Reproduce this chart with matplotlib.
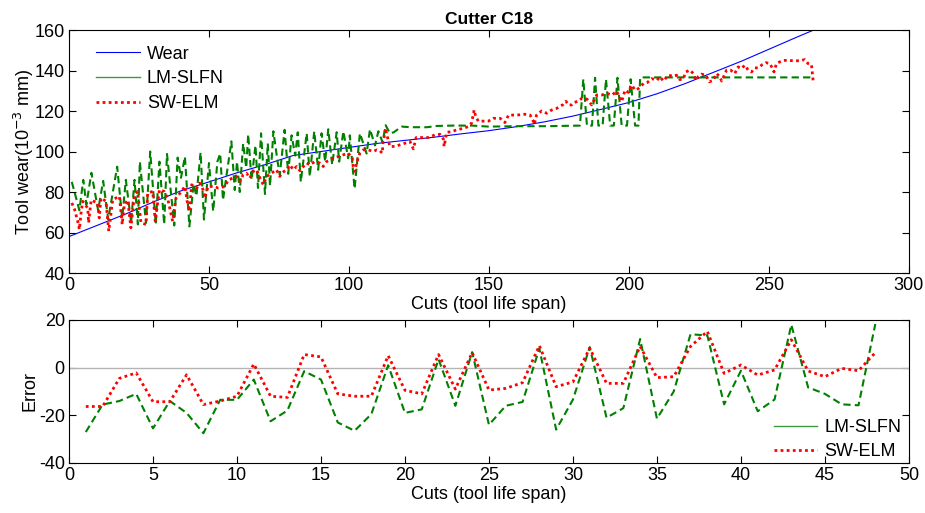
import matplotlib.pyplot as plt
from matplotlib.lines import Line2D

plt.rcParams['font.family'] = ['Liberation Sans', 'DejaVu Sans']
plt.rcParams['axes.unicode_minus'] = False

# measured wear (smooth)
wear_cut = [0, 10, 20, 30, 40, 50, 60, 70, 80, 90, 100, 110, 120, 130, 140,
            150, 160, 170, 180, 190, 200, 210, 220, 230, 240, 250, 260, 266]
wear_val = [58, 63.5, 69, 75, 80.6, 85, 89.5, 93.5, 98, 100, 102, 104, 105.5,
            107, 108.7, 110.3, 112.3, 114.7, 117.5, 120.8, 124.2, 128.5, 133.5,
            139, 144.5, 150.5, 156.5, 160]

# LM-SLFN prediction (turning points)
lm_cut = [1, 3.7, 5.1, 6.2, 8, 10.4, 12.2, 14, 17.2, 19, 20.3, 22.2, 23.4, 24.6,
          25.3, 27.5, 29, 31, 32.3, 34, 35, 37.6, 38.8, 40, 41.4, 43, 44.5, 45.5,
          47, 48.2, 50, 51.5, 53, 54, 55, 58, 59.2, 60, 61, 62.2, 63.3, 64, 65.2,
          66.6, 67.5, 68.6, 70, 71, 71.8, 73, 74.5, 75.3, 77, 78.3, 79.5, 80.8,
          81.7, 82.8, 84.9, 86, 87.6, 89, 90.2, 91.5, 92.6, 94, 95.6, 96.5, 98,
          99.7, 100.3, 102, 103.9, 106.3, 107.5, 109.3, 110.5, 112, 113.1, 114.6,
          116, 118.8, 122, 128, 131, 137, 144, 150, 160, 170, 182.5, 183.7, 185,
          186.8, 187.9, 189.1, 190.6, 191.8, 193.3, 194.6, 195.9, 197.4, 199.3,
          200.6, 202.2, 203.4, 204, 265.5]
lm_val = [85, 71, 86, 73.8, 89.5, 71, 85.5, 66.5, 92.5, 67, 86, 65, 86, 64,
          95, 64.8, 100, 64, 95, 64, 98.8, 63.5, 97, 87, 97.5, 63, 84, 78,
          99.5, 66.4, 94.3, 70.5, 95, 99, 76, 105, 81, 95, 80, 104, 92, 108.5, 86,
          103, 82, 109, 79, 104, 83, 110, 95, 88.5, 110.7, 89, 108, 98,
          109.5, 85, 109, 87.7, 110, 91, 109, 95, 111, 93.5, 109.5, 95, 110,
          96.7, 108, 81.6, 109, 99, 111, 103, 110, 104.6, 113, 109,
          109.5, 112.3, 112, 112, 112.6, 112.8, 112.8, 112.3, 112.5, 112.5, 112.8, 135.7, 112.8,
          112.8, 136.4, 112.8, 112.8, 135.7, 112.8, 112.8, 136.4, 112.8, 112.8,
          135.7, 112.8, 112.8, 136.6, 136.6]

# SW-ELM prediction
sw_cut = [1, 1.9, 3.1, 3.7, 4.3, 4.9, 6.7, 7, 7.9, 10.2, 10.8, 11.4, 13.2, 14.2,
          15.6, 18, 19, 19.8, 21, 22.1, 23.3, 24.5, 25.7, 27.5, 28.1, 29.9, 30.8,
          32.3, 34, 35.2, 37, 38.2, 40, 41.4, 42.2, 43, 43.8, 45.6, 46.7, 47.9,
          48.5, 49.7, 51.5, 53.3, 54.5, 55.7, 56.9, 58.6, 59.8, 61, 62.2, 63.4,
          64.6, 65.8, 67, 68.2, 69.4, 70.6, 72.3, 74.1, 75.3, 75.9, 77.7, 78.9,
          80.1, 81.3, 82.5, 83.7, 84.9, 86, 87.8, 89.6, 90.8, 92, 93.2, 94.4, 96.2,
          98, 99.7, 101.2, 101.5, 102.1, 102.7, 103.9, 105.1, 106.9, 108.7, 109.9,
          111.1, 111.9, 112.2, 112.6, 113.1, 113.4, 114.6, 116.4, 118.2, 120,
          121.8, 123, 124, 126, 128.3, 130.7, 132.5, 133.7, 134, 134.9, 136.7,
          138.5, 141, 142.6, 143.8, 144.7, 145.3, 146.2, 148, 149.8, 151.6, 154,
          155.7, 157, 160, 162.9, 164.7, 165.9, 166.2, 167, 168.8, 170.6, 172.4,
          174.2, 176.6, 177.5, 178.4, 179.5, 180.2, 181.3, 182, 183.1, 185, 186.7,
          187.3, 188.5, 190.3, 192.1, 194, 195.6, 196.8, 197.4, 198.6, 199.8, 201,
          202.2, 203.4, 205.2, 206.6, 208.1, 210, 211.1, 212.3, 214, 215.9, 217,
          218.2, 219.4, 220.3, 221.8, 223, 223.9, 224.7, 225.9, 227.5, 228.7,
          230.1, 231.3, 232.5, 233.1, 234.9, 236.3, 237.8, 239, 240.2, 241.4,
          242.6, 243.8, 245, 246.2, 247.7, 248.9, 250.3, 251.3, 251.8, 252.7,
          253.9, 255.1, 256.9, 258.7, 261.1, 262.8, 264, 265.2, 265.6, 265.8]
sw_val = [74.6, 71.8, 65.6, 61.5, 69.7, 75.4, 72, 64.8, 76, 74.6, 67.2, 77, 75.5, 60.7,
          76.2, 77.9, 64, 74, 76, 62.3, 78, 80.3, 64.8, 64, 79.5, 80.3, 65.6,
          81.1, 80.3, 77, 65.6, 77, 80, 82.8, 75.4, 70.5, 83.6, 82, 84.4, 81.1,
          77, 82.8, 82.8, 82, 82.3, 82.8, 86, 86.9, 87.7, 85.2, 88.5, 89.3,
          86.9, 90.2, 91, 86.9, 83.6, 87.7, 89.3, 91, 87.7, 89.3, 91, 93.4,
          91, 92.6, 90.5, 92.6, 94.3, 93.4, 95, 94.3, 92.6, 95, 95.9, 96.7, 97.5,
          98.4, 99.2, 96.7, 92.6, 90.2, 94.3, 99.2, 100.8, 100.8, 100, 100.8,
          100.3, 99.2, 104.9, 107.4, 111.5, 109, 102.5, 102.5, 103.3, 104.1,
          104.9, 101.3, 106.9, 106.9, 106.9, 108.2, 108.5, 106.2, 102.5, 109.5, 109.8,
          110.7, 111.5, 112.3, 114, 120.5, 117.2, 115, 115, 115, 116.4, 116.4,
          114.3, 118, 118, 118.4, 118, 114.8, 113.4, 118, 120, 118.9, 120.5,
          121.3, 123.3, 124.8, 123, 123, 124.1, 124.6, 124.9, 126.2, 125.9, 123,
          124.6, 127.9, 127.9, 128.7, 127.9, 129.8, 126.2, 124.6, 130.3, 129.2, 132.8,
          130.3, 131.1, 133.6, 134.1, 136, 135.2, 136.9, 134.8, 137.7, 137.2, 137.7,
          135.5, 135.8, 139.3, 140.2, 138.5, 135.2, 136.9, 138.2, 137.7, 134.4,
          135.2, 138.5, 136.9, 134.8, 140.2, 140.2, 138.5, 141.8, 141, 142.6,
          140.2, 139.3, 141.3, 141.3, 143, 143.9, 143.4, 141, 139.3, 143.4,
          144.3, 145, 145, 144.8, 144.8, 145.4, 143.4, 142.9, 137.7, 134.8]

# prediction error on the test cuts
err_cut = list(range(1, 49))
err_lm = [-27, -15.5, -14, -11, -25.5, -14, -19, -27.5, -13.5, -13.5, -5, -22.5,
          -18, -1.5, -5, -23, -26.5, -19.5, 1, -19, -17.5, 3.5, -16, 6.5,
          -24, -16, -14.4, 8, -26, -13.4, 8.6, -21, -17, 12, -21.4, -10,
          14, 13.5, -15.4, -1.3, -18.3, -13.4, 18, -8.3, -11, -15.4, -15.8, 18.3]
err_sw = [-16.3, -16.3, -4.5, -2.2, -14.3, -14.3, -3, -15.5, -14, -12, 1.5, -12,
          -12.5, 5.5, 4.5, -11, -12, -12, 5, -9.5, -11, 5.5, -9, 6.3,
          -9.4, -8.7, -6.3, 9.2, -8, -6, 8.2, -6.6, -6.6, 8.9, -4.2, -3.8,
          8.9, 15.2, -2.4, 1.1, -3.1, -1, 11.7, -1.4, -3.8, -0.3, -1.3, 6.3]

fs = 13
fig = plt.figure(figsize=(9.25, 5.13), dpi=100)
ax1 = fig.add_axes([0.0746, 0.4678, 0.908, 0.4737])
ax2 = fig.add_axes([0.0746, 0.0975, 0.908, 0.2788])

ax1.plot(wear_cut, wear_val, color='#0000ff', lw=0.8)
ax1.plot(lm_cut, lm_val, color='#008000', lw=1.5, ls=(0, (3.5, 2)))
ax1.plot(sw_cut, sw_val, color='#ff0000', lw=2, ls=(0, (1, 1.2)))
ax1.set_xlim(0, 300)
ax1.set_ylim(40, 160)
ax1.set_xticks(range(0, 301, 50))
ax1.set_yticks(range(40, 161, 20))
ax1.set_title('Cutter C18', fontsize=12.5, fontweight='bold', pad=4)
ax1.set_xlabel('Cuts (tool life span)', fontsize=fs, labelpad=1)
ax1.set_ylabel('Tool wear(10$^{-3}$ mm)', fontsize=fs, labelpad=-1)

h1 = [Line2D([], [], color='#0000ff', lw=0.8),
      Line2D([], [], color='#3c9a3c', lw=1),
      Line2D([], [], color='#ff0000', lw=2, ls=(0, (1, 1.2)))]
ax1.legend(h1, ['Wear', 'LM-SLFN', 'SW-ELM'], loc='upper left',
           bbox_to_anchor=(0.024, 0.965), frameon=False, fontsize=fs,
           handlelength=2.4, handletextpad=0.4, labelspacing=0.42, borderaxespad=0)

ax2.axhline(0, color='#b4b4b4', lw=1)
ax2.plot(err_cut, err_lm, color='#008000', lw=1.5, ls=(0, (3.5, 2)))
ax2.plot(err_cut, err_sw, color='#ff0000', lw=2, ls=(0, (1, 1.2)))
ax2.set_xlim(0, 50)
ax2.set_ylim(-40, 20)
ax2.set_xticks(range(0, 51, 5))
ax2.set_yticks([-40, -20, 0, 20])
ax2.set_xlabel('Cuts (tool life span)', fontsize=fs, labelpad=1)
ax2.set_ylabel('Error', fontsize=fs, labelpad=0)

h2 = [Line2D([], [], color='#3c9a3c', lw=1),
      Line2D([], [], color='#ff0000', lw=2, ls=(0, (1, 1.2)))]
ax2.legend(h2, ['LM-SLFN', 'SW-ELM'], loc='lower right',
           bbox_to_anchor=(1.0, -0.03), frameon=False, fontsize=fs,
           handlelength=2.4, handletextpad=0.4, labelspacing=0.4, borderaxespad=0)

for ax in (ax1, ax2):
    ax.tick_params(direction='in', top=True, right=True, length=5,
                   labelsize=fs, pad=3)
    for s in ax.spines.values():
        s.set_linewidth(0.8)

fig.savefig('out.png', dpi=100)
